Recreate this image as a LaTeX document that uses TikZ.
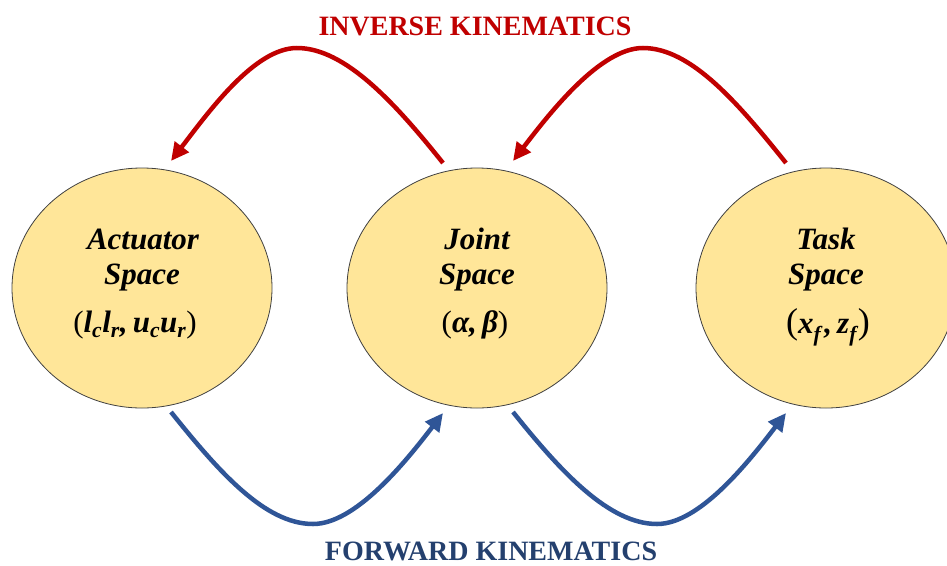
\documentclass[tikz,border=0pt]{standalone}
\usepackage{fontspec}
\setmainfont{Liberation Serif}
\usetikzlibrary{shapes.geometric,arrows.meta}
\definecolor{ikred}{HTML}{C00000}
\definecolor{fkblue}{HTML}{2F5597}
\definecolor{fktext}{HTML}{24406E}
\definecolor{spacefill}{HTML}{FFE699}
\newcommand{\lpar}{{\upshape\mdseries(}}
\newcommand{\rpar}{{\upshape\mdseries)}}
\newcommand{\blpar}{{\fontsize{36}{37}\selectfont\upshape\mdseries(}}
\newcommand{\brpar}{{\fontsize{36}{37}\selectfont\upshape\mdseries)}}
\newcommand{\sbs}[1]{\raisebox{-2pt}{\textsubscript{#1}}}
\tikzset{
  spacenode/.style={ellipse, draw=black!75, line width=0.8pt, fill=spacefill,
    minimum width=260pt, minimum height=240pt, inner sep=0pt},
  spacetext/.style={font=\fontsize{31}{35}\selectfont\bfseries\itshape, inner sep=0pt, anchor=base},
  ikarrow/.style={draw=ikred, line width=4.5pt, -{Triangle[length=18pt,width=17pt]}},
  fkarrow/.style={draw=fkblue, line width=4.5pt, -{Triangle[length=18pt,width=17pt]}},
  titletext/.style={font=\fontsize{28}{32}\selectfont\bfseries, inner sep=0pt, anchor=base}
}
\begin{document}
\begin{tikzpicture}[x=1pt,y=-1pt]
\useasboundingbox (0,0) rectangle (947,565);
\clip (0,0) rectangle (947,565);
% spaces
\node[spacenode] (act) at (142,288) {};
\node[spacenode] (joint) at (477,288) {};
\node[spacenode] (task) at (826,288) {};
\node[spacetext] (act1) at (143,249) {Actuator};
\node[spacetext] (act2) at (142,284) {Space};
\node[spacetext] (act3) at (135,332) {\lpar l\sbs{c}l\sbs{r},\,u\sbs{c}u\sbs{r}\rpar};
\node[spacetext] (joint1) at (477,249) {Joint};
\node[spacetext] (joint2) at (477,284) {Space};
\node[spacetext] (joint3) at (475,332) {\lpar α,\,β\rpar};
\node[spacetext] (task1) at (826,249) {Task};
\node[spacetext] (task2) at (826,284) {Space};
\node[spacetext] (task3) at (828,333) {\blpar x\sbs{f}\kern3pt,\,z\sbs{f}\kern1pt\brpar};
% titles
\node[titletext, text=ikred] (ik) at (475,35) {INVERSE KINEMATICS};
\node[titletext, text=fktext] (fk) at (491,560) {FORWARD KINEMATICS};
% arrow end points
\coordinate (ikAs) at (443,163); \coordinate (ikAp) at (297,48); \coordinate (ikAe) at (171,161);
\coordinate (ikBs) at (786,163); \coordinate (ikBp) at (643,48); \coordinate (ikBe) at (513,161);
\coordinate (fkAs) at (171,412); \coordinate (fkAp) at (313,524); \coordinate (fkAe) at (443,413);
\coordinate (fkBs) at (513,412); \coordinate (fkBp) at (657,524); \coordinate (fkBe) at (786,413);
% inverse kinematics arrows
\draw[ikarrow] (ikAs) .. controls +(-48,-60) and +(48,0) .. (ikAp) .. controls +(-42,0) and +(39,-51) .. (ikAe);
\draw[ikarrow] (ikBs) .. controls +(-48,-60) and +(48,0) .. (ikBp) .. controls +(-42,0) and +(39,-51) .. (ikBe);
% forward kinematics arrows
\draw[fkarrow] (fkAs) .. controls +(48,60) and +(-48,0) .. (fkAp) .. controls +(42,0) and +(-39,51) .. (fkAe);
\draw[fkarrow] (fkBs) .. controls +(48,60) and +(-48,0) .. (fkBp) .. controls +(42,0) and +(-39,51) .. (fkBe);
\end{tikzpicture}
\end{document}
